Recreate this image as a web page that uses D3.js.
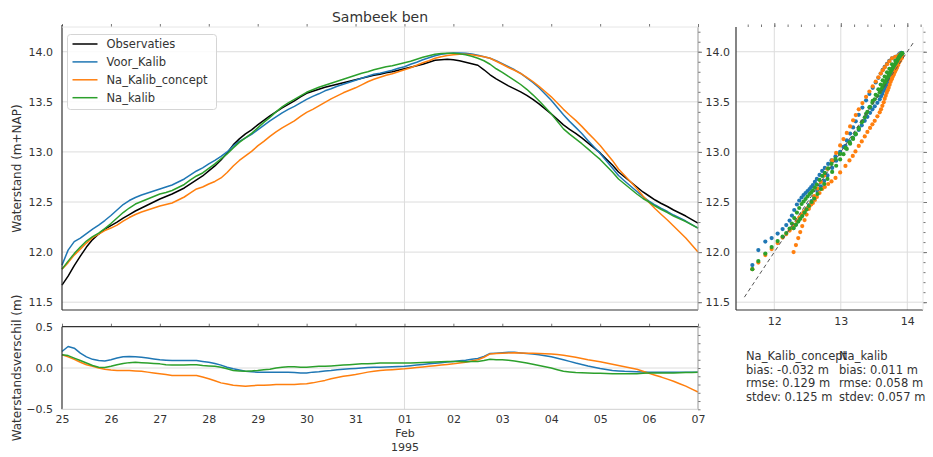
<!DOCTYPE html>
<html>
<head>
<meta charset="utf-8">
<script src="https://cdn.jsdelivr.net/npm/d3@7"></script>
<style>
  body { margin: 0; background: #fff; }
  svg { font-family: "DejaVu Sans", sans-serif; display: block; }
</style>
</head>
<body>
<svg id="chart" width="933" height="457"></svg>
<script>
// ---- Station and series ----
const stationName = "Sambeek ben";
const seriesNames = ["Observaties", "Voor_Kalib", "Na_Kalib_concept", "Na_kalib"];
const seriesColors = ["#000000", "#1f77b4", "#ff7f0e", "#2ca02c"];
const startTime = Date.UTC(1995, 0, 25);
const endTime = Date.UTC(1995, 1, 7);
const stepHours = 3; // one value every 3 hours

// Water level (m+NAP)
const observaties = [
  11.67, 11.76, 11.865, 11.96, 12.05, 12.125, 12.18, 12.23, 12.265, 12.30,
  12.34, 12.375, 12.41, 12.44, 12.47, 12.50, 12.53, 12.555, 12.58, 12.61,
  12.64, 12.68, 12.72, 12.76, 12.81, 12.86, 12.92, 12.99, 13.07, 13.13,
  13.18, 13.22, 13.27, 13.315, 13.36, 13.40, 13.44, 13.475, 13.51, 13.55,
  13.585, 13.605, 13.625, 13.645, 13.66, 13.675, 13.69, 13.705, 13.72, 13.735,
  13.75, 13.765, 13.775, 13.79, 13.80, 13.815, 13.83, 13.845, 13.86, 13.875,
  13.895, 13.915, 13.92, 13.925, 13.92, 13.91, 13.895, 13.88, 13.865, 13.82,
  13.77, 13.73, 13.695, 13.66, 13.63, 13.60, 13.565, 13.525, 13.48, 13.43,
  13.38, 13.325, 13.27, 13.225, 13.185, 13.14, 13.09, 13.04, 12.99, 12.93,
  12.87, 12.80, 12.75, 12.70, 12.65, 12.60, 12.56, 12.52, 12.485, 12.455,
  12.42, 12.39, 12.36, 12.325, 12.29
];
const voorKalib = [
  11.87, 12.02, 12.105, 12.14, 12.185, 12.23, 12.27, 12.315, 12.365, 12.42,
  12.475, 12.515, 12.545, 12.57, 12.59, 12.61, 12.63, 12.65, 12.67, 12.70,
  12.73, 12.77, 12.81, 12.84, 12.88, 12.915, 12.955, 13.00, 13.06, 13.105,
  13.14, 13.175, 13.22, 13.265, 13.31, 13.35, 13.39, 13.425, 13.455, 13.49,
  13.525, 13.555, 13.58, 13.61, 13.63, 13.655, 13.675, 13.695, 13.715, 13.735,
  13.755, 13.775, 13.785, 13.80, 13.815, 13.835, 13.85, 13.875, 13.895, 13.92,
  13.94, 13.96, 13.975, 13.983, 13.987, 13.988, 13.985, 13.977, 13.965, 13.95,
  13.935, 13.91, 13.88, 13.85, 13.82, 13.783, 13.74, 13.693, 13.64, 13.578,
  13.515, 13.443, 13.37, 13.305, 13.245, 13.183, 13.115, 13.05, 12.985, 12.912,
  12.84, 12.765, 12.71, 12.657, 12.605, 12.552, 12.51, 12.47, 12.435, 12.405,
  12.37, 12.34, 12.31, 12.275, 12.24
];
const naKalibConcept = [
  11.83, 11.895, 11.97, 12.03, 12.09, 12.145, 12.18, 12.215, 12.24, 12.27,
  12.31, 12.345, 12.375, 12.40, 12.42, 12.44, 12.46, 12.475, 12.49, 12.52,
  12.55, 12.59, 12.63, 12.65, 12.68, 12.705, 12.74, 12.795, 12.86, 12.915,
  12.96, 13.005, 13.06, 13.105, 13.155, 13.20, 13.24, 13.275, 13.31, 13.355,
  13.395, 13.425, 13.46, 13.495, 13.53, 13.56, 13.59, 13.615, 13.64, 13.67,
  13.70, 13.725, 13.745, 13.765, 13.78, 13.80, 13.82, 13.84, 13.865, 13.89,
  13.91, 13.935, 13.95, 13.962, 13.97, 13.975, 13.975, 13.97, 13.96, 13.95,
  13.935, 13.905, 13.875, 13.843, 13.815, 13.783, 13.745, 13.703, 13.655, 13.603,
  13.55, 13.488, 13.425, 13.368, 13.315, 13.255, 13.19, 13.128, 13.065, 12.99,
  12.915, 12.83, 12.765, 12.70, 12.635, 12.56, 12.495, 12.432, 12.375, 12.32,
  12.26, 12.20, 12.14, 12.07, 12.00
];
const naKalib = [
  11.83, 11.91, 11.985, 12.05, 12.11, 12.155, 12.19, 12.235, 12.285, 12.34,
  12.395, 12.44, 12.48, 12.505, 12.53, 12.555, 12.58, 12.595, 12.615, 12.645,
  12.675, 12.72, 12.76, 12.79, 12.835, 12.88, 12.93, 12.98, 13.04, 13.095,
  13.14, 13.185, 13.24, 13.295, 13.345, 13.40, 13.45, 13.49, 13.525, 13.56,
  13.595, 13.62, 13.645, 13.665, 13.685, 13.705, 13.725, 13.745, 13.765, 13.785,
  13.80, 13.82, 13.835, 13.85, 13.86, 13.875, 13.89, 13.905, 13.925, 13.945,
  13.96, 13.975, 13.982, 13.985, 13.985, 13.98, 13.97, 13.955, 13.935, 13.91,
  13.875, 13.83, 13.795, 13.753, 13.715, 13.673, 13.625, 13.57, 13.51, 13.445,
  13.38, 13.305, 13.23, 13.177, 13.13, 13.082, 13.03, 12.977, 12.925, 12.862,
  12.80, 12.73, 12.68, 12.63, 12.58, 12.535, 12.50, 12.46, 12.425, 12.395,
  12.36, 12.332, 12.305, 12.272, 12.24
];

// Water level difference, model minus observation (m)
const resVoorKalib = [
  0.20, 0.26, 0.24, 0.18, 0.135, 0.105, 0.09, 0.085, 0.10, 0.12,
  0.135, 0.14, 0.135, 0.13, 0.12, 0.11, 0.10, 0.095, 0.09, 0.09,
  0.09, 0.09, 0.09, 0.08, 0.07, 0.055, 0.035, 0.01, -0.01, -0.025,
  -0.04, -0.045, -0.05, -0.05, -0.05, -0.05, -0.05, -0.05, -0.055, -0.06,
  -0.06, -0.05, -0.045, -0.035, -0.03, -0.02, -0.015, -0.01, -0.005, 0.0,
  0.005, 0.01, 0.01, 0.012, 0.015, 0.018, 0.02, 0.028, 0.035, 0.043,
  0.05, 0.058, 0.065, 0.072, 0.08, 0.088, 0.095, 0.105, 0.115, 0.14,
  0.175, 0.18, 0.185, 0.19, 0.19, 0.183, 0.175, 0.168, 0.16, 0.148,
  0.135, 0.118, 0.10, 0.08, 0.06, 0.043, 0.025, 0.01, -0.005, -0.018,
  -0.03, -0.035, -0.04, -0.043, -0.045, -0.048, -0.05, -0.05, -0.05, -0.05,
  -0.05, -0.05, -0.05, -0.05, -0.05
];
const resNaKalibConcept = [
  0.16, 0.135, 0.105, 0.07, 0.04, 0.02, 0.0, -0.015, -0.025, -0.03,
  -0.03, -0.03, -0.035, -0.04, -0.05, -0.06, -0.07, -0.08, -0.09, -0.09,
  -0.09, -0.09, -0.09, -0.11, -0.13, -0.155, -0.18, -0.195, -0.21, -0.215,
  -0.22, -0.215, -0.21, -0.21, -0.205, -0.20, -0.20, -0.20, -0.20, -0.195,
  -0.19, -0.18, -0.165, -0.15, -0.13, -0.115, -0.10, -0.09, -0.08, -0.065,
  -0.05, -0.04, -0.03, -0.025, -0.02, -0.015, -0.01, -0.003, 0.005, 0.012,
  0.02, 0.028, 0.035, 0.043, 0.05, 0.06, 0.07, 0.085, 0.10, 0.13,
  0.17, 0.175, 0.18, 0.183, 0.185, 0.183, 0.18, 0.178, 0.175, 0.173,
  0.17, 0.163, 0.155, 0.143, 0.13, 0.115, 0.10, 0.088, 0.075, 0.06,
  0.045, 0.03, 0.015, 0.0, -0.015, -0.04, -0.065, -0.088, -0.11, -0.135,
  -0.16, -0.19, -0.22, -0.255, -0.29
];
const resNaKalib = [
  0.16, 0.15, 0.12, 0.09, 0.06, 0.03, 0.01, 0.005, 0.02, 0.04,
  0.055, 0.065, 0.07, 0.065, 0.06, 0.055, 0.05, 0.04, 0.035, 0.035,
  0.035, 0.04, 0.04, 0.03, 0.025, 0.02, 0.01, -0.01, -0.03, -0.035,
  -0.04, -0.035, -0.03, -0.02, -0.015, 0.0, 0.01, 0.015, 0.015, 0.01,
  0.01, 0.015, 0.02, 0.02, 0.025, 0.03, 0.035, 0.04, 0.045, 0.05,
  0.05, 0.055, 0.06, 0.06, 0.06, 0.06, 0.06, 0.062, 0.065, 0.068,
  0.07, 0.072, 0.075, 0.078, 0.08, 0.078, 0.075, 0.078, 0.08, 0.09,
  0.105, 0.10, 0.10, 0.093, 0.085, 0.073, 0.06, 0.045, 0.03, 0.015,
  0.0, -0.02, -0.04, -0.048, -0.055, -0.058, -0.06, -0.063, -0.065, -0.068,
  -0.07, -0.07, -0.07, -0.07, -0.07, -0.065, -0.06, -0.06, -0.06, -0.06,
  -0.06, -0.058, -0.055, -0.053, -0.05
];

// Axis ticks and annotations
const levelTicks = [11.5, 12.0, 12.5, 13.0, 13.5, 14.0];
const residualTicks = [-0.5, 0.0, 0.5];
const scatterTicks = [12, 13, 14];
const oneToOne = [11.55, 14.1];
const statsConcept = ["Na_Kalib_concept", "bias: -0.032 m", "rmse: 0.129 m", "stdev: 0.125 m"];
const statsKalib = ["Na_kalib", "bias: 0.011 m", "rmse: 0.058 m", "stdev: 0.057 m"];

// ---- Layout ----
const svg = d3.select("#chart");
const textColor = "#333";
const gridColor = "#dcdcdc";
const main = { left: 62, right: 698, top: 27, bottom: 310 };
const resid = { left: 62, right: 698, top: 326.7, bottom: 409.3 };
const scat = { left: 736, right: 923, top: 27, bottom: 310 };

const timeAt = k => new Date(startTime + k * stepHours * 3600e3);
const x = d3.scaleUtc().domain([new Date(startTime), new Date(endTime)]).range([main.left, main.right]);
const y = d3.scaleLinear().domain([11.422, 14.247]).range([main.bottom, main.top]);
const yr = d3.scaleLinear().domain([-0.5, 0.5]).range([resid.bottom, resid.top]);
const sx = d3.scaleLinear().domain([11.424, 14.236]).range([scat.left, scat.right]);
const sy = y;

const days = d3.utcDay.range(new Date(startTime), new Date(endTime + 1));
const monthStart = new Date(Date.UTC(1995, 1, 1));

function styleAxis(g, color) {
  g.select(".domain").remove();
  g.selectAll(".tick line").attr("stroke", color || "#555");
  g.selectAll(".tick text").attr("fill", textColor).attr("font-family", "DejaVu Sans, sans-serif");
}

function hLine(x1, x2, yy, color, w) {
  svg.append("line").attr("x1", x1).attr("x2", x2).attr("y1", yy).attr("y2", yy)
    .attr("stroke", color).attr("stroke-width", w || 1);
}
function vLine(xx, y1, y2, color, w) {
  svg.append("line").attr("x1", xx).attr("x2", xx).attr("y1", y1).attr("y2", y2)
    .attr("stroke", color).attr("stroke-width", w || 1);
}

// ---- Grids ----
levelTicks.forEach(v => hLine(main.left, main.right, y(v), gridColor));
vLine(x(monthStart), main.top, main.bottom, gridColor);
hLine(resid.left, resid.right, yr(0), gridColor);
vLine(x(monthStart), resid.top, resid.bottom, gridColor);
levelTicks.forEach(v => hLine(scat.left, scat.right, sy(v), gridColor));
scatterTicks.forEach(v => vLine(sx(v), scat.top, scat.bottom, gridColor));

// ---- Top panel: water levels ----
const levelSeries = [observaties, voorKalib, naKalibConcept, naKalib];
const levelLine = d3.line().x((d, i) => x(timeAt(i))).y(d => y(d));
levelSeries.forEach((s, i) => {
  svg.append("path").datum(s).attr("d", levelLine)
    .attr("fill", "none").attr("stroke", seriesColors[i]).attr("stroke-width", 1.5)
    .attr("stroke-linejoin", "round");
});

// ---- Bottom panel: differences ----
const residSeries = [resVoorKalib, resNaKalibConcept, resNaKalib];
const residLine = d3.line().x((d, i) => x(timeAt(i))).y(d => yr(d));
residSeries.forEach((s, i) => {
  svg.append("path").datum(s).attr("d", residLine)
    .attr("fill", "none").attr("stroke", seriesColors[i + 1]).attr("stroke-width", 1.5)
    .attr("stroke-linejoin", "round");
});

// ---- Scatter: model vs observation ----
const modelSeries = [voorKalib, naKalibConcept, naKalib];
modelSeries.forEach((s, i) => {
  svg.append("g").selectAll("circle").data(s).join("circle")
    .attr("cx", (d, k) => sx(observaties[k]))
    .attr("cy", d => sy(d))
    .attr("r", 2.1)
    .attr("fill", seriesColors[i + 1]);
});
svg.append("line")
  .attr("x1", sx(oneToOne[0])).attr("y1", sy(oneToOne[0]))
  .attr("x2", sx(oneToOne[1])).attr("y2", sy(oneToOne[1]))
  .attr("stroke", "#555").attr("stroke-width", 1).attr("stroke-dasharray", "4,3");

// ---- Axes: top panel ----
svg.append("g").attr("transform", `translate(${main.left},0)`)
  .call(d3.axisLeft(y).tickValues(levelTicks).tickSize(0).tickPadding(9).tickFormat(d3.format(".1f")))
  .attr("font-size", 11).call(g => styleAxis(g));
svg.append("g").attr("transform", `translate(0,${main.top})`)
  .call(d3.axisTop(x).tickValues(days).tickSize(3).tickFormat(""))
  .call(g => styleAxis(g, "#777"));
svg.append("g").attr("transform", `translate(${main.right},0)`)
  .call(d3.axisRight(y).tickValues(d3.range(11.5, 14.21, 0.1)).tickSize(2.5).tickFormat(""))
  .call(g => styleAxis(g, "#777"));
svg.append("g").attr("transform", `translate(${main.right},0)`)
  .call(d3.axisRight(y).tickValues(levelTicks).tickSize(4).tickFormat(""))
  .call(g => styleAxis(g, "#777"));

// ---- Axes: bottom panel ----
svg.append("g").attr("transform", `translate(${resid.left},0)`)
  .call(d3.axisLeft(yr).tickValues(residualTicks).tickSize(0).tickPadding(9)
    .tickFormat(d => d3.format(".1f")(d).replace("-", "\u2212")))
  .attr("font-size", 11).call(g => styleAxis(g));
svg.append("g").attr("transform", `translate(0,${resid.top})`)
  .call(d3.axisTop(x).tickValues(days).tickSize(3).tickFormat(""))
  .call(g => styleAxis(g, "#777"));
svg.append("g").attr("transform", `translate(${resid.right},0)`)
  .call(d3.axisRight(yr).tickValues(d3.range(-0.5, 0.51, 0.1)).tickSize(2.5).tickFormat(""))
  .call(g => styleAxis(g, "#777"));
const dayAxis = svg.append("g").attr("transform", `translate(0,${resid.bottom})`)
  .call(d3.axisBottom(x).tickValues(days).tickSize(0).tickPadding(6).tickFormat(d3.utcFormat("%d")))
  .attr("font-size", 11).call(g => styleAxis(g));
dayAxis.selectAll(".tick text").each(function (d) {
  if (+d === +monthStart) {
    const t = d3.select(this);
    t.append("tspan").attr("x", 0).attr("dy", "1.25em").text(d3.utcFormat("%b")(d));
    t.append("tspan").attr("x", 0).attr("dy", "1.25em").text(d3.utcFormat("%Y")(d));
  }
});

// ---- Axes: scatter ----
svg.append("g").attr("transform", `translate(${scat.left},0)`)
  .call(d3.axisLeft(sy).tickValues(levelTicks).tickSize(0).tickPadding(6).tickFormat(d3.format(".1f")))
  .attr("font-size", 11).call(g => styleAxis(g));
svg.append("g").attr("transform", `translate(0,${scat.bottom})`)
  .call(d3.axisBottom(sx).tickValues(scatterTicks).tickSize(0).tickPadding(7).tickFormat(d3.format("d")))
  .attr("font-size", 11).call(g => styleAxis(g));
svg.append("g").attr("transform", `translate(0,${scat.top})`)
  .call(d3.axisTop(sx).tickValues(d3.range(11.6, 14.21, 0.2)).tickSize(2.5).tickFormat(""))
  .call(g => styleAxis(g, "#777"));
svg.append("g").attr("transform", `translate(0,${scat.top})`)
  .call(d3.axisTop(sx).tickValues(scatterTicks).tickSize(4).tickFormat(""))
  .call(g => styleAxis(g, "#777"));
svg.append("g").attr("transform", `translate(${scat.right},0)`)
  .call(d3.axisRight(sy).tickValues(d3.range(11.5, 14.21, 0.1)).tickSize(2.5).tickFormat(""))
  .call(g => styleAxis(g, "#777"));
svg.append("g").attr("transform", `translate(${scat.right},0)`)
  .call(d3.axisRight(sy).tickValues(levelTicks).tickSize(4).tickFormat(""))
  .call(g => styleAxis(g, "#777"));

// ---- Spines ----
vLine(main.left, main.top - 2, main.bottom, "#333", 1.2);
hLine(main.left, main.right, main.bottom, "#333", 1.2);
vLine(main.right, main.top, main.bottom, "#999", 1);
hLine(main.left, main.right, main.top, "#e6e6e6", 1);
vLine(resid.left, resid.top, resid.bottom, "#333", 1.2);
hLine(resid.left, resid.right, resid.top, "#333", 1.2);
vLine(resid.right, resid.top, resid.bottom, "#999", 1);
hLine(resid.left, resid.right, resid.bottom, "#d0d0d0", 1);
vLine(scat.left, scat.top, scat.bottom, "#333", 1.2);
hLine(scat.left, scat.right, scat.bottom, "#333", 1.2);
vLine(scat.right, scat.top, scat.bottom, "#e6e6e6", 1);

// ---- Titles and labels ----
svg.append("text").attr("x", (main.left + main.right) / 2).attr("y", 22)
  .attr("text-anchor", "middle").attr("font-size", 14).attr("fill", textColor).text(stationName);
svg.append("text").attr("transform", `translate(21,${(main.top + main.bottom) / 2}) rotate(-90)`)
  .attr("text-anchor", "middle").attr("font-size", 12).attr("fill", textColor).text("Waterstand (m+NAP)");
svg.append("text").attr("transform", `translate(21,${(resid.top + resid.bottom) / 2}) rotate(-90)`)
  .attr("text-anchor", "middle").attr("font-size", 12).attr("fill", textColor).text("Waterstandsverschil (m)");

// ---- Legend ----
const legend = svg.append("g").attr("transform", "translate(67.5,34.5)");
legend.append("rect").attr("width", 149).attr("height", 75).attr("rx", 3)
  .attr("fill", "#fff").attr("fill-opacity", 0.85).attr("stroke", "#d5d5d5");
seriesNames.forEach((name, i) => {
  const yy = 9.5 + i * 17.9;
  legend.append("line").attr("x1", 5).attr("x2", 30).attr("y1", yy).attr("y2", yy)
    .attr("stroke", seriesColors[i]).attr("stroke-width", 1.5);
  legend.append("text").attr("x", 39).attr("y", yy + 4).attr("font-size", 11.5)
    .attr("fill", textColor).text(name);
});

// ---- Statistics ----
function statBlock(lines, xx) {
  const t = svg.append("text").attr("x", xx).attr("y", 360).attr("font-size", 11.5).attr("fill", textColor);
  lines.forEach((l, i) => t.append("tspan").attr("x", xx).attr("dy", i === 0 ? 0 : 13.5).text(l));
}
statBlock(statsConcept, 746);
statBlock(statsKalib, 839);
</script>
</body>
</html>
